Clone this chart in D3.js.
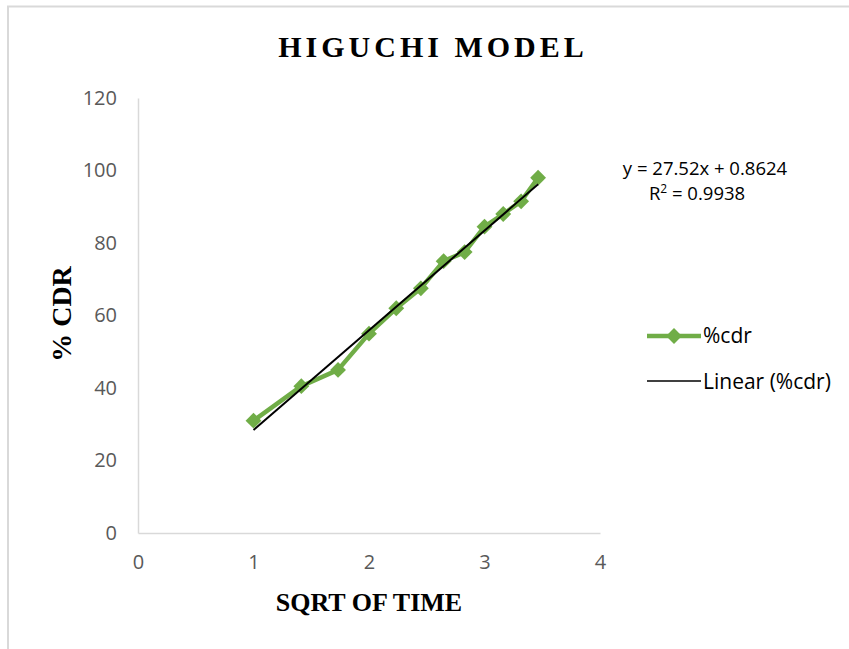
<!DOCTYPE html>
<html>
<head>
<meta charset="utf-8">
<script src="https://cdn.jsdelivr.net/npm/d3@7"></script>
<style>
  html, body { margin: 0; padding: 0; background: #fff; }
  svg { display: block; }
</style>
</head>
<body>
<svg id="chart" width="849" height="649"></svg>
<script>
// Higuchi release model: % cumulative drug release vs square root of time
const sqrtTime = [1, 1.414, 1.732, 2, 2.236, 2.449, 2.646, 2.828, 3, 3.162, 3.317, 3.464];
const cdr = [31, 40.5, 45, 55, 62, 67.5, 75, 77.5, 84.5, 88, 91.5, 98];
const xTicks = [0, 1, 2, 3, 4];
const yTicks = [0, 20, 40, 60, 80, 100, 120];
const slope = 27.52;
const intercept = 0.8624;
const rSquared = 0.9938;

const svg = d3.select("#chart");
const green = "#70ad47";
const tickColor = "#595959";
const axisColor = "#d9d9d9";
const tickFont = "'Open Sans', 'Noto Sans', sans-serif";
const serif = "'Liberation Serif', 'DejaVu Serif', serif";

// outer frame
svg.append("rect")
  .attr("x", 8).attr("y", 6.5)
  .attr("width", 900).attr("height", 700)
  .attr("fill", "none").attr("stroke", axisColor).attr("stroke-width", 2);

const x = d3.scaleLinear().domain([0, 4]).range([138, 600]);
const y = d3.scaleLinear().domain([0, 120]).range([533, 98]);

// axes
const xAxis = svg.append("g").attr("transform", `translate(0,${y(0)})`)
  .call(d3.axisBottom(x).tickValues(xTicks).tickSize(0).tickPadding(22).tickFormat(d3.format("d")));
const yAxis = svg.append("g").attr("transform", `translate(${x(0)},0)`)
  .call(d3.axisLeft(y).tickValues(yTicks).tickSize(0).tickPadding(21).tickFormat(d3.format("d")));
[xAxis, yAxis].forEach(g => {
  g.select(".domain").attr("stroke", axisColor).attr("stroke-width", 1.5);
  g.selectAll("text").attr("fill", tickColor).style("font-family", tickFont).style("font-size", "20px");
});

// data series
const line = d3.line().x((d, i) => x(sqrtTime[i])).y(d => y(d));
svg.append("path").datum(cdr)
  .attr("d", line)
  .attr("fill", "none").attr("stroke", green).attr("stroke-width", 4.5)
  .attr("stroke-linejoin", "round");

const diamond = d3.symbol().type(d3.symbolDiamond2).size(160);
svg.selectAll(".pt").data(cdr).join("path")
  .attr("class", "pt")
  .attr("d", diamond)
  .attr("transform", (d, i) => `translate(${x(sqrtTime[i])},${y(d)})`)
  .attr("fill", green);

// linear trendline
const xMin = d3.min(sqrtTime), xMax = d3.max(sqrtTime);
svg.append("line")
  .attr("x1", x(xMin)).attr("y1", y(slope * xMin + intercept))
  .attr("x2", x(xMax)).attr("y2", y(slope * xMax + intercept))
  .attr("stroke", "#000").attr("stroke-width", 2);

// trendline equation
const eq = svg.append("g").style("font-family", tickFont).style("font-size", "18.5px").attr("fill", "#000");
eq.append("text").attr("x", 705).attr("y", 175).attr("text-anchor", "middle")
  .text(`y = ${slope}x + ${intercept}`);
const r2 = eq.append("text").attr("x", 697).attr("y", 200).attr("text-anchor", "middle");
r2.append("tspan").text("R");
r2.append("tspan").attr("dy", -7).style("font-size", "12px").text("2");
r2.append("tspan").attr("dy", 7).text(` = ${rSquared}`);

// title
svg.append("text").attr("x", 433).attr("y", 57).attr("text-anchor", "middle")
  .style("font-family", serif).style("font-weight", "bold").style("font-size", "30px")
  .style("letter-spacing", "4px").attr("fill", "#000")
  .text("HIGUCHI MODEL");

// axis titles
svg.append("text").attr("x", 369).attr("y", 611).attr("text-anchor", "middle")
  .style("font-family", serif).style("font-weight", "bold").style("font-size", "26px")
  .attr("fill", "#000").text("SQRT OF TIME");
svg.append("text").attr("transform", "translate(71,314) rotate(-90)").attr("text-anchor", "middle")
  .style("font-family", serif).style("font-weight", "bold").style("font-size", "28px")
  .attr("fill", "#000").text("% CDR");

// legend
const lg = svg.append("g").style("font-family", tickFont).style("font-size", "21px");
lg.append("line").attr("x1", 647).attr("x2", 701).attr("y1", 336).attr("y2", 336)
  .attr("stroke", green).attr("stroke-width", 4.5);
lg.append("path").attr("d", diamond).attr("transform", "translate(674,336)").attr("fill", green);
lg.append("text").attr("x", 703).attr("y", 343).text("%cdr");
lg.append("line").attr("x1", 647).attr("x2", 701).attr("y1", 381).attr("y2", 381)
  .attr("stroke", "#000").attr("stroke-width", 1.5);
lg.append("text").attr("x", 703).attr("y", 389).text("Linear (%cdr)");
</script>
</body>
</html>
